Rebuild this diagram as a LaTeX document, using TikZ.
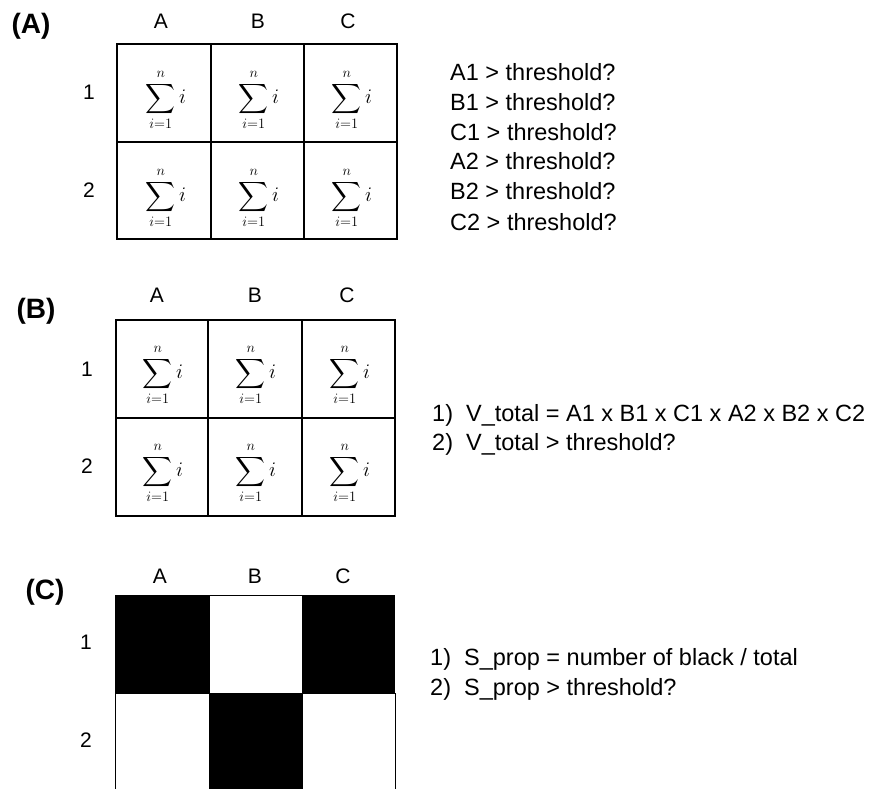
\documentclass[tikz,border=0pt]{standalone}
\usepackage{amsmath}
\usepackage{fontspec}
\setmainfont{Liberation Sans}
\usepackage{tikz}
\newcommand{\cellsum}{$\displaystyle\sum_{i=1}^{n} i$}

\begin{document}
\begin{tikzpicture}[x=1pt, y=-1pt,
  grid/.style={line width=1.6pt},
  lbl/.style={font=\fontsize{21}{25}\selectfont, inner sep=0pt},
  txt/.style={font=\fontsize{23.5}{28}\selectfont, inner sep=0pt, anchor=base west},
  tag/.style={font=\fontsize{28}{32}\selectfont\bfseries, inner sep=0pt},
  sumtxt/.style={font=\fontsize{22}{26}\selectfont, inner sep=0pt}]
\useasboundingbox (0,0) rectangle (876,789);

\node[tag] (tagA) at (31,26) {(A)};
\node[lbl] (aA) at (161,21) {A};
\node[lbl] (aB) at (258,21) {B};
\node[lbl] (aC) at (348,21) {C};
\node[lbl] (a1) at (89,92) {1};
\node[lbl] (a2) at (89,190) {2};
\draw[grid] (117,44) rectangle (397,239);
\draw[grid] (211,44) -- (211,239);
\draw[grid] (304,44) -- (304,239);
\draw[grid] (117,142) -- (397,142);
\node[sumtxt] (aA1) at (166,100) {\cellsum};
\node[sumtxt] (aB1) at (259,100) {\cellsum};
\node[sumtxt] (aC1) at (352,100) {\cellsum};
\node[sumtxt] (aA2) at (166,198) {\cellsum};
\node[sumtxt] (aB2) at (259,198) {\cellsum};
\node[sumtxt] (aC2) at (352,198) {\cellsum};
\node[txt] (qA1) at (450,81) {A1 > threshold?};
\node[txt] (qB1) at (450,111) {B1 > threshold?};
\node[txt] (qC1) at (450,141) {C1 > threshold?};
\node[txt] (qA2) at (450,170) {A2 > threshold?};
\node[txt] (qB2) at (450,200) {B2 > threshold?};
\node[txt] (qC2) at (450,230) {C2 > threshold?};

\node[tag] (tagB) at (36,311) {(B)};
\node[lbl] (bA) at (157,295) {A};
\node[lbl] (bB) at (255,295) {B};
\node[lbl] (bC) at (347,295) {C};
\node[lbl] (b1) at (87,369) {1};
\node[lbl] (b2) at (87,466) {2};
\draw[grid] (116,320) rectangle (395,516);
\draw[grid] (208,320) -- (208,516);
\draw[grid] (302,320) -- (302,516);
\draw[grid] (116,418) -- (395,418);
\node[sumtxt] (bA1) at (163,375) {\cellsum};
\node[sumtxt] (bB1) at (256,375) {\cellsum};
\node[sumtxt] (bC1) at (350,375) {\cellsum};
\node[sumtxt] (bA2) at (163,473) {\cellsum};
\node[sumtxt] (bB2) at (256,473) {\cellsum};
\node[sumtxt] (bC2) at (350,473) {\cellsum};
\node[txt] (vtot) at (432,421) {1)\ \ V\_total = A1 x B1 x C1 x A2 x B2 x C2};
\node[txt] (vthr) at (432,450) {2)\ \ V\_total > threshold?};

\node[tag] (tagC) at (45,592) {(C)};
\node[lbl] (cA) at (160,576) {A};
\node[lbl] (cB) at (255,576) {B};
\node[lbl] (cC) at (343,576) {C};
\node[lbl] (c1) at (86,642) {1};
\node[lbl] (c2) at (86,740) {2};
\draw[line width=0.8pt] (209,595) rectangle (302,693);
\draw[line width=0.8pt] (115,693) rectangle (209,795);
\draw[line width=0.8pt] (302,693) rectangle (395,795);
\fill (115,595) rectangle (209,693);
\fill (302,595) rectangle (395,693);
\fill (209,693) rectangle (302,795);
\node[txt] (sprop) at (430,665) {1)\ \ S\_prop = number of black / total};
\node[txt] (sthr) at (430,695) {2)\ \ S\_prop > threshold?};
\end{tikzpicture}
\end{document}
